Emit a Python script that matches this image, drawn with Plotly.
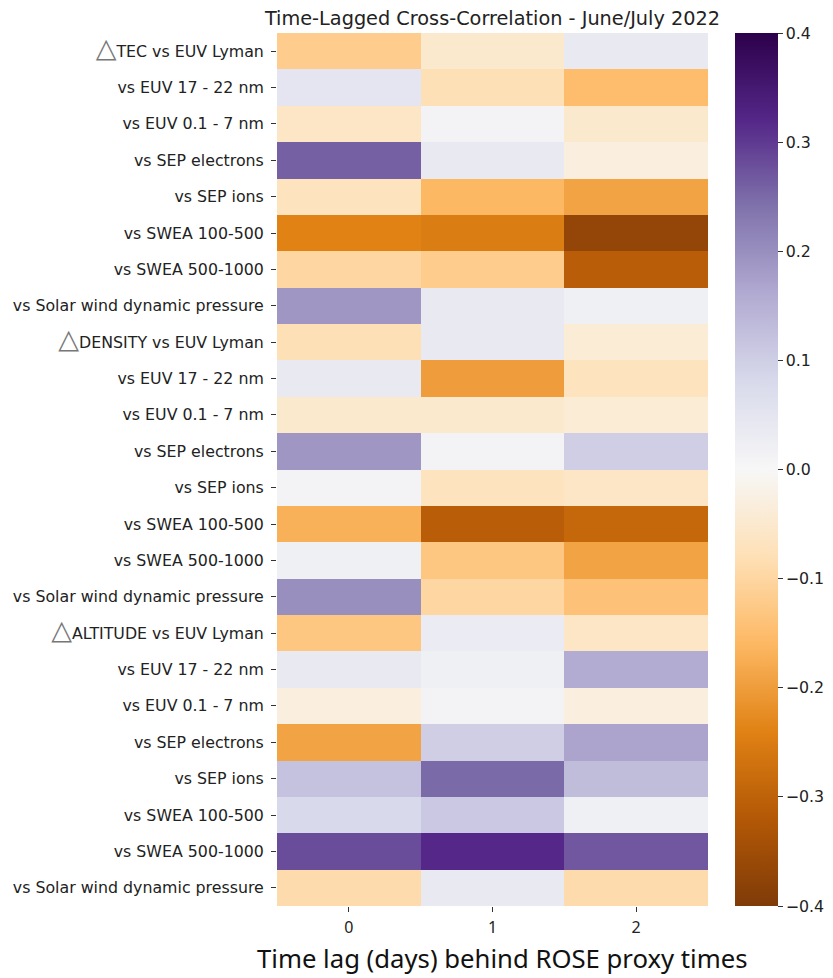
import plotly.graph_objects as go

row_labels = [
    "TEC vs EUV Lyman", "vs EUV 17 - 22 nm", "vs EUV 0.1 - 7 nm", "vs SEP electrons",
    "vs SEP ions", "vs SWEA 100-500", "vs SWEA 500-1000", "vs Solar wind dynamic pressure",
    "DENSITY vs EUV Lyman", "vs EUV 17 - 22 nm", "vs EUV 0.1 - 7 nm", "vs SEP electrons",
    "vs SEP ions", "vs SWEA 100-500", "vs SWEA 500-1000", "vs Solar wind dynamic pressure",
    "ALTITUDE vs EUV Lyman", "vs EUV 17 - 22 nm", "vs EUV 0.1 - 7 nm", "vs SEP electrons",
    "vs SEP ions", "vs SWEA 100-500", "vs SWEA 500-1000", "vs Solar wind dynamic pressure",
]
marked_rows = [0, 8, 16]
lags = [0, 1, 2]

lag0 = [-0.12, 0.05, -0.06, 0.26, -0.07, -0.24, -0.10, 0.19,
        -0.08, 0.04, -0.05, 0.19, 0.01, -0.17, 0.02, 0.20,
        -0.13, 0.04, -0.03, -0.19, 0.12, 0.08, 0.28, -0.09]
lag1 = [-0.05, -0.08, 0.01, 0.04, -0.16, -0.25, -0.12, 0.04,
        0.04, -0.20, -0.05, 0.01, -0.07, -0.31, -0.13, -0.10,
        0.03, 0.02, 0.01, 0.10, 0.25, 0.11, 0.32, 0.04]
lag2 = [0.04, -0.15, -0.05, -0.03, -0.19, -0.37, -0.31, 0.02,
        -0.04, -0.07, -0.04, 0.10, -0.06, -0.29, -0.19, -0.14,
        -0.06, 0.16, -0.03, 0.17, 0.13, 0.02, 0.27, -0.09]

z = [[a, b, c] for a, b, c in zip(lag0, lag1, lag2)]

puor = ["#7f3b08", "#b35806", "#e08214", "#fdb863", "#fee0b6", "#f7f7f7",
        "#d8daeb", "#b2abd2", "#8073ac", "#542788", "#2d004b"]
colorscale = [[i / 10, c] for i, c in enumerate(puor)]

ticktext = []
for i, lab in enumerate(row_labels):
    if i in marked_rows:
        ticktext.append('<span style="color:#777777;font-size:27px">△</span>' + lab)
    else:
        ticktext.append(lab)

# page body has an 8px margin, so the figure is sized/placed accordingly
W, H = 825, 970
L, T = 269, 25
PW, PH = 431, 873

fig = go.Figure(go.Heatmap(
    z=z, x=lags, y=list(range(len(row_labels))),
    colorscale=colorscale, zmin=-0.4, zmax=0.4, xgap=0, ygap=0,
    colorbar=dict(
        x=(727 - L) / PW, xanchor="left", xref="paper", xpad=0, ypad=0,
        y=0.5, yanchor="middle", len=1.0,
        thickness=43, outlinewidth=0, ticks="outside", ticklen=5, tickcolor="#333",
        tickvals=[-0.4, -0.3, -0.2, -0.1, 0.0, 0.1, 0.2, 0.3, 0.4],
        tickformat=".1f", tickfont=dict(family="DejaVu Sans", size=15.8, color="#222"),
    ),
))

fig.update_layout(
    width=W, height=H,
    margin=dict(l=L, r=W - L - PW, t=T, b=H - T - PH, autoexpand=False),
    paper_bgcolor="white", plot_bgcolor="white",
    title=dict(text="Time-Lagged Cross-Correlation - June/July 2022",
               x=0.5, xref="paper", xanchor="center",
               y=1 - 10 / H, yref="container", yanchor="middle",
               font=dict(family="DejaVu Sans", size=19.3, color="#222")),
    xaxis=dict(tickvals=lags, ticktext=[str(v) for v in lags], range=[-0.5, 2.5],
               ticks="outside", ticklen=5, tickcolor="#333", showgrid=False, zeroline=False,
               ticklabelstandoff=2,
               tickfont=dict(family="Noto Sans", size=16, color="#222")),
    yaxis=dict(tickvals=list(range(len(row_labels))), ticktext=ticktext,
               range=[len(row_labels) - 0.5, -0.5],
               ticks="outside", ticklen=5, tickcolor="#333", showgrid=False, zeroline=False,
               ticklabelstandoff=4,
               tickfont=dict(family="DejaVu Sans", size=15.8, color="#222")),
    annotations=[dict(
        text="Time lag (days) behind ROSE proxy times",
        xref="paper", yref="paper",
        x=(494 - L) / PW, y=-(950 - (T + PH)) / PH,
        xanchor="center", yanchor="middle", showarrow=False,
        font=dict(family="Noto Sans", size=25.7, color="#111"),
    )],
)

fig.write_html("out.html")
